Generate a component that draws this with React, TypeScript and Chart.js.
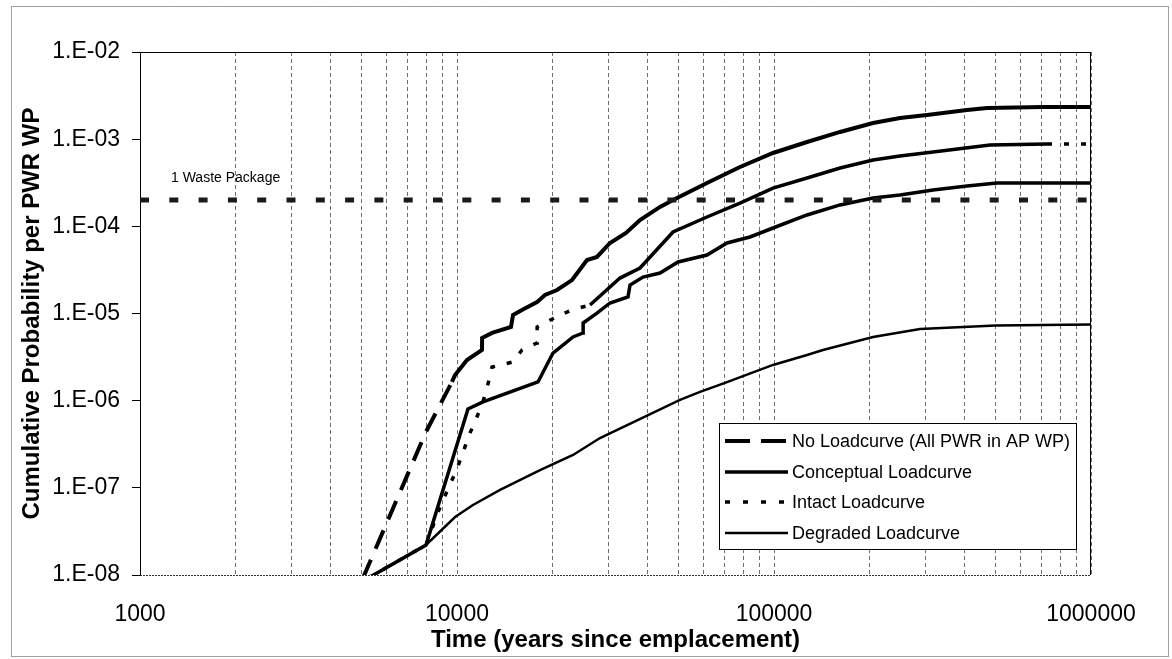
import React, { useEffect, useRef } from "react";
import { Chart, registerables } from "chart.js";

Chart.register(...registerables);

// ---------- data ----------
const xTickValues = [1000, 10000, 100000, 1000000];
const xTickLabels = ["1000", "10000", "100000", "1000000"];
const yTickValues = [1e-8, 1e-7, 1e-6, 1e-5, 1e-4, 1e-3, 1e-2];
const yTickLabels = ["1.E-08", "1.E-07", "1.E-06", "1.E-05", "1.E-04", "1.E-03", "1.E-02"];
const xTitle = "Time (years since emplacement)";
const yTitle = "Cumulative Probability per PWR WP";
const wasteLabel = "1 Waste Package";

const wasteTime = [1000, 1000000];
const wasteProb = [2e-4, 2e-4];

const noLoadTime = [5050, 7985, 9640, 9860, 10750, 11990, 12000, 12900, 14800, 15020, 16030, 17880, 18950, 20680, 23060, 25710, 27640, 30380, 34130, 37780, 43700, 48030, 61450, 78110, 99270, 127100, 161600, 205300, 249800, 303800, 406300, 469800, 705700, 1000000];
const noLoadProb = [9.2e-9, 4.4e-7, 1.64e-6, 1.97e-6, 2.93e-6, 3.81e-6, 5.24e-6, 5.98e-6, 7.0e-6, 9.6e-6, 1.1e-5, 1.35e-5, 1.63e-5, 1.86e-5, 2.42e-5, 4.11e-5, 4.45e-5, 6.44e-5, 8.39e-5, 1.18e-4, 1.67e-4, 2.0e-4, 3.14e-4, 4.79e-4, 6.94e-4, 9.28e-4, 1.21e-3, 1.53e-3, 1.75e-3, 1.89e-3, 2.16e-3, 2.28e-3, 2.34e-3, 2.34e-3];

const conceptualTime = [5240, 7985, 10830, 12080, 18010, 20080, 23230, 24980, 25000, 27640, 30380, 34630, 35140, 38620, 43700, 49800, 61450, 71080, 84000, 99270, 127100, 161600, 205300, 249800, 317400, 406300, 505200, 1000000];
const conceptualProb = [9.2e-9, 2.21e-8, 8.03e-7, 9.66e-7, 1.64e-6, 3.52e-6, 5.38e-6, 5.98e-6, 7.78e-6, 1.01e-5, 1.32e-5, 1.55e-5, 2.12e-5, 2.62e-5, 2.91e-5, 3.9e-5, 4.69e-5, 6.44e-5, 7.55e-5, 9.57e-5, 1.35e-4, 1.76e-4, 2.11e-4, 2.29e-4, 2.61e-4, 2.9e-4, 3.14e-4, 3.14e-4];

const intactTime = [5240, 7985, 8840, 10000, 10990, 11990, 12440, 12900, 15020, 16030, 17880, 17900, 21130, 23060, 26280, 32670, 37780, 48030, 61450, 78110, 99270, 127100, 161600, 205300, 249800, 317400, 480200, 726400, 1000000];
const intactProb = [9.2e-9, 2.21e-8, 6.03e-8, 1.65e-7, 4.26e-7, 8.92e-7, 1.4e-6, 2.43e-6, 2.78e-6, 3.81e-6, 4.59e-6, 7.0e-6, 9.61e-6, 1.1e-5, 1.25e-5, 2.55e-5, 3.33e-5, 8.61e-5, 1.28e-4, 1.85e-4, 2.75e-4, 3.58e-4, 4.67e-4, 5.77e-4, 6.41e-4, 7.12e-4, 8.57e-4, 8.8e-4, 8.8e-4];

const degradedTime = [5240, 7985, 9860, 11230, 13670, 18280, 23230, 28260, 50520, 58430, 70050, 99270, 127100, 142700, 205300, 288800, 500000, 1000000];
const degradedProb = [9.2e-9, 2.21e-8, 4.63e-8, 6.36e-8, 9.45e-8, 1.6e-7, 2.38e-7, 3.73e-7, 1.02e-6, 1.26e-6, 1.6e-6, 2.57e-6, 3.34e-6, 3.81e-6, 5.38e-6, 6.64e-6, 7.3e-6, 7.5e-6];

const seriesLabels = [
  "No Loadcurve (All PWR in AP WP)",
  "Conceptual Loadcurve",
  "Intact Loadcurve",
  "Degraded Loadcurve",
];

// gridline positions: every mantissa 1..9 of each decade
const xGridValues: number[] = [];
for (let d = 0; d < 3; d++) {
  for (let m = 1; m <= 9; m++) xGridValues.push(m * xTickValues[d]);
}
xGridValues.push(xTickValues[3]);

const FONT = '"Liberation Sans", Arial, Helvetica, sans-serif';

const pts = (xs: number[], ys: number[]) => xs.map((x, i) => ({ x, y: ys[i] }));

const legendStyles = [
  { width: 4, dash: [25, 11] },
  { width: 3.5, dash: [] as number[] },
  { width: 3.5, dash: [5, 13] },
  { width: 2.5, dash: [] as number[] },
];

const decorPlugin = {
  id: "decor",
  beforeDraw(chart: any) {
    const ctx = chart.ctx;
    ctx.save();
    ctx.fillStyle = "#fff";
    ctx.fillRect(0, 0, chart.width, chart.height);
    ctx.restore();
  },
  beforeDatasetsDraw(chart: any) {
    const { ctx, chartArea: a } = chart;
    ctx.save();
    ctx.strokeStyle = "#000";
    ctx.lineWidth = 1;
    ctx.beginPath();
    ctx.moveTo(a.left, a.top + 0.5);
    ctx.lineTo(a.right, a.top + 0.5);
    ctx.moveTo(a.right - 0.5, a.top);
    ctx.lineTo(a.right - 0.5, a.bottom);
    ctx.stroke();
    ctx.setLineDash([2, 1]);
    ctx.strokeStyle = "#333";
    ctx.beginPath();
    ctx.moveTo(a.left, a.bottom + 0.5);
    ctx.lineTo(a.right, a.bottom + 0.5);
    ctx.stroke();
    // outer chart border
    ctx.setLineDash([1, 1]);
    ctx.strokeStyle = "#444";
    ctx.strokeRect(11.5, 6.5, 1157, 650);
    ctx.restore();
  },
  afterDraw(chart: any) {
    const { ctx } = chart;
    ctx.save();
    // "1 Waste Package" label
    ctx.fillStyle = "#000";
    ctx.font = `14px ${FONT}`;
    ctx.textBaseline = "middle";
    ctx.textAlign = "left";
    ctx.fillText(wasteLabel, 171, 178);

    // legend box
    const box = { left: 719, top: 423, right: 1076, bottom: 549 };
    ctx.fillStyle = "#fff";
    ctx.fillRect(box.left, box.top, box.right - box.left, box.bottom - box.top);
    ctx.strokeStyle = "#000";
    ctx.lineWidth = 1;
    ctx.setLineDash([]);
    ctx.strokeRect(box.left + 0.5, box.top + 0.5, box.right - box.left, box.bottom - box.top);
    const rows = [441, 472, 502, 533];
    ctx.font = `18px ${FONT}`;
    rows.forEach((y, i) => {
      const st = legendStyles[i];
      ctx.strokeStyle = "#000";
      ctx.lineWidth = st.width;
      ctx.setLineDash(st.dash);
      ctx.beginPath();
      ctx.moveTo(725, y);
      ctx.lineTo(788, y);
      ctx.stroke();
      ctx.setLineDash([]);
      ctx.fillStyle = "#000";
      ctx.fillText(chart.data.datasets[i + 1].label, 792, y + 1);
    });
    ctx.restore();
  },
};

export default function App() {
  const ref = useRef<HTMLCanvasElement>(null);
  useEffect(() => {
    Chart.defaults.font.family = FONT;
    Chart.defaults.color = "#000";
    const chart = new Chart(ref.current as HTMLCanvasElement, {
      type: "line",
      data: {
        datasets: [
          {
            label: wasteLabel,
            data: pts(wasteTime, wasteProb),
            borderColor: "#1a1a1a",
            borderWidth: 5,
            borderDash: [9, 20.3],
            pointRadius: 0,
            borderCapStyle: "butt",
          },
          {
            label: seriesLabels[0],
            data: pts(noLoadTime, noLoadProb),
            borderColor: "#000",
            borderWidth: 4,
            borderDash: [],
            pointRadius: 0,
            segment: {
              borderDash: (c: any) => (noLoadTime[c.p1DataIndex] <= 9640 ? [20, 12] : undefined),
            },
          },
          {
            label: seriesLabels[1],
            data: pts(conceptualTime, conceptualProb),
            borderColor: "#000",
            borderWidth: 3.5,
            pointRadius: 0,
          },
          {
            label: seriesLabels[2],
            data: pts(intactTime, intactProb),
            borderColor: "#000",
            borderWidth: 3.5,
            borderDash: [],
            pointRadius: 0,
            segment: {
              borderDash: (c: any) =>
                intactTime[c.p1DataIndex] <= 26280 || intactTime[c.p0DataIndex] >= 700000 ? [5, 12] : undefined,
            },
          },
          {
            label: seriesLabels[3],
            data: pts(degradedTime, degradedProb),
            borderColor: "#000",
            borderWidth: 2.5,
            pointRadius: 0,
          },
        ],
      },
      options: {
        responsive: false,
        animation: false,
        devicePixelRatio: 1,
        layout: { padding: { left: 12, top: 52, right: 81, bottom: 4 } },
        plugins: { legend: { display: false }, tooltip: { enabled: false }, title: { display: false } },
        elements: { line: { tension: 0, borderCapStyle: "butt" } },
        scales: {
          x: {
            type: "logarithmic",
            min: 1000,
            max: 1000000,
            afterBuildTicks: (s: any) => {
              s.ticks = xGridValues.map((v) => ({ value: v }));
            },
            afterFit: (s: any) => {
              s.height = 80;
            },
            ticks: {
              autoSkip: false,
              maxRotation: 0,
              minRotation: 0,
              padding: 26,
              font: { size: 23 },
              color: "#000",
              callback: (v: any) => {
                const k = xTickValues.indexOf(Number(v));
                return k >= 0 ? xTickLabels[k] : "";
              },
            },
            grid: { drawOnChartArea: true, drawTicks: false, color: "#6e6e6e", lineWidth: 1 },
            border: { display: false, dash: [4, 3] },
            title: {
              display: true,
              text: xTitle,
              font: { size: 24, weight: "bold" },
              color: "#000",
              padding: { top: 0, bottom: 0 },
            },
          },
          y: {
            type: "logarithmic",
            min: 1e-8,
            max: 1e-2,
            afterBuildTicks: (s: any) => {
              s.ticks = yTickValues.map((v) => ({ value: v }));
            },
            afterFit: (s: any) => {
              s.width = 128;
            },
            ticks: {
              font: { size: 23 },
              color: "#000",
              padding: 12,
              callback: (_v: any, i: number) => yTickLabels[i],
            },
            grid: { drawOnChartArea: false, drawTicks: true, tickLength: 8, color: "#000" },
            border: { display: true, color: "#000", width: 1 },
            title: {
              display: true,
              text: yTitle,
              font: { size: 24, weight: "bold" },
              color: "#000",
              padding: { top: 6, bottom: 0 },
            },
          },
        },
      },
      plugins: [decorPlugin],
    } as any);
    return () => chart.destroy();
  }, []);
  return (
    <div style={{ position: "absolute", left: 0, top: 0, width: 1172, height: 659, background: "#fff" }}>
      <canvas ref={ref} width={1172} height={659} style={{ display: "block", width: 1172, height: 659 }} />
    </div>
  );
}
